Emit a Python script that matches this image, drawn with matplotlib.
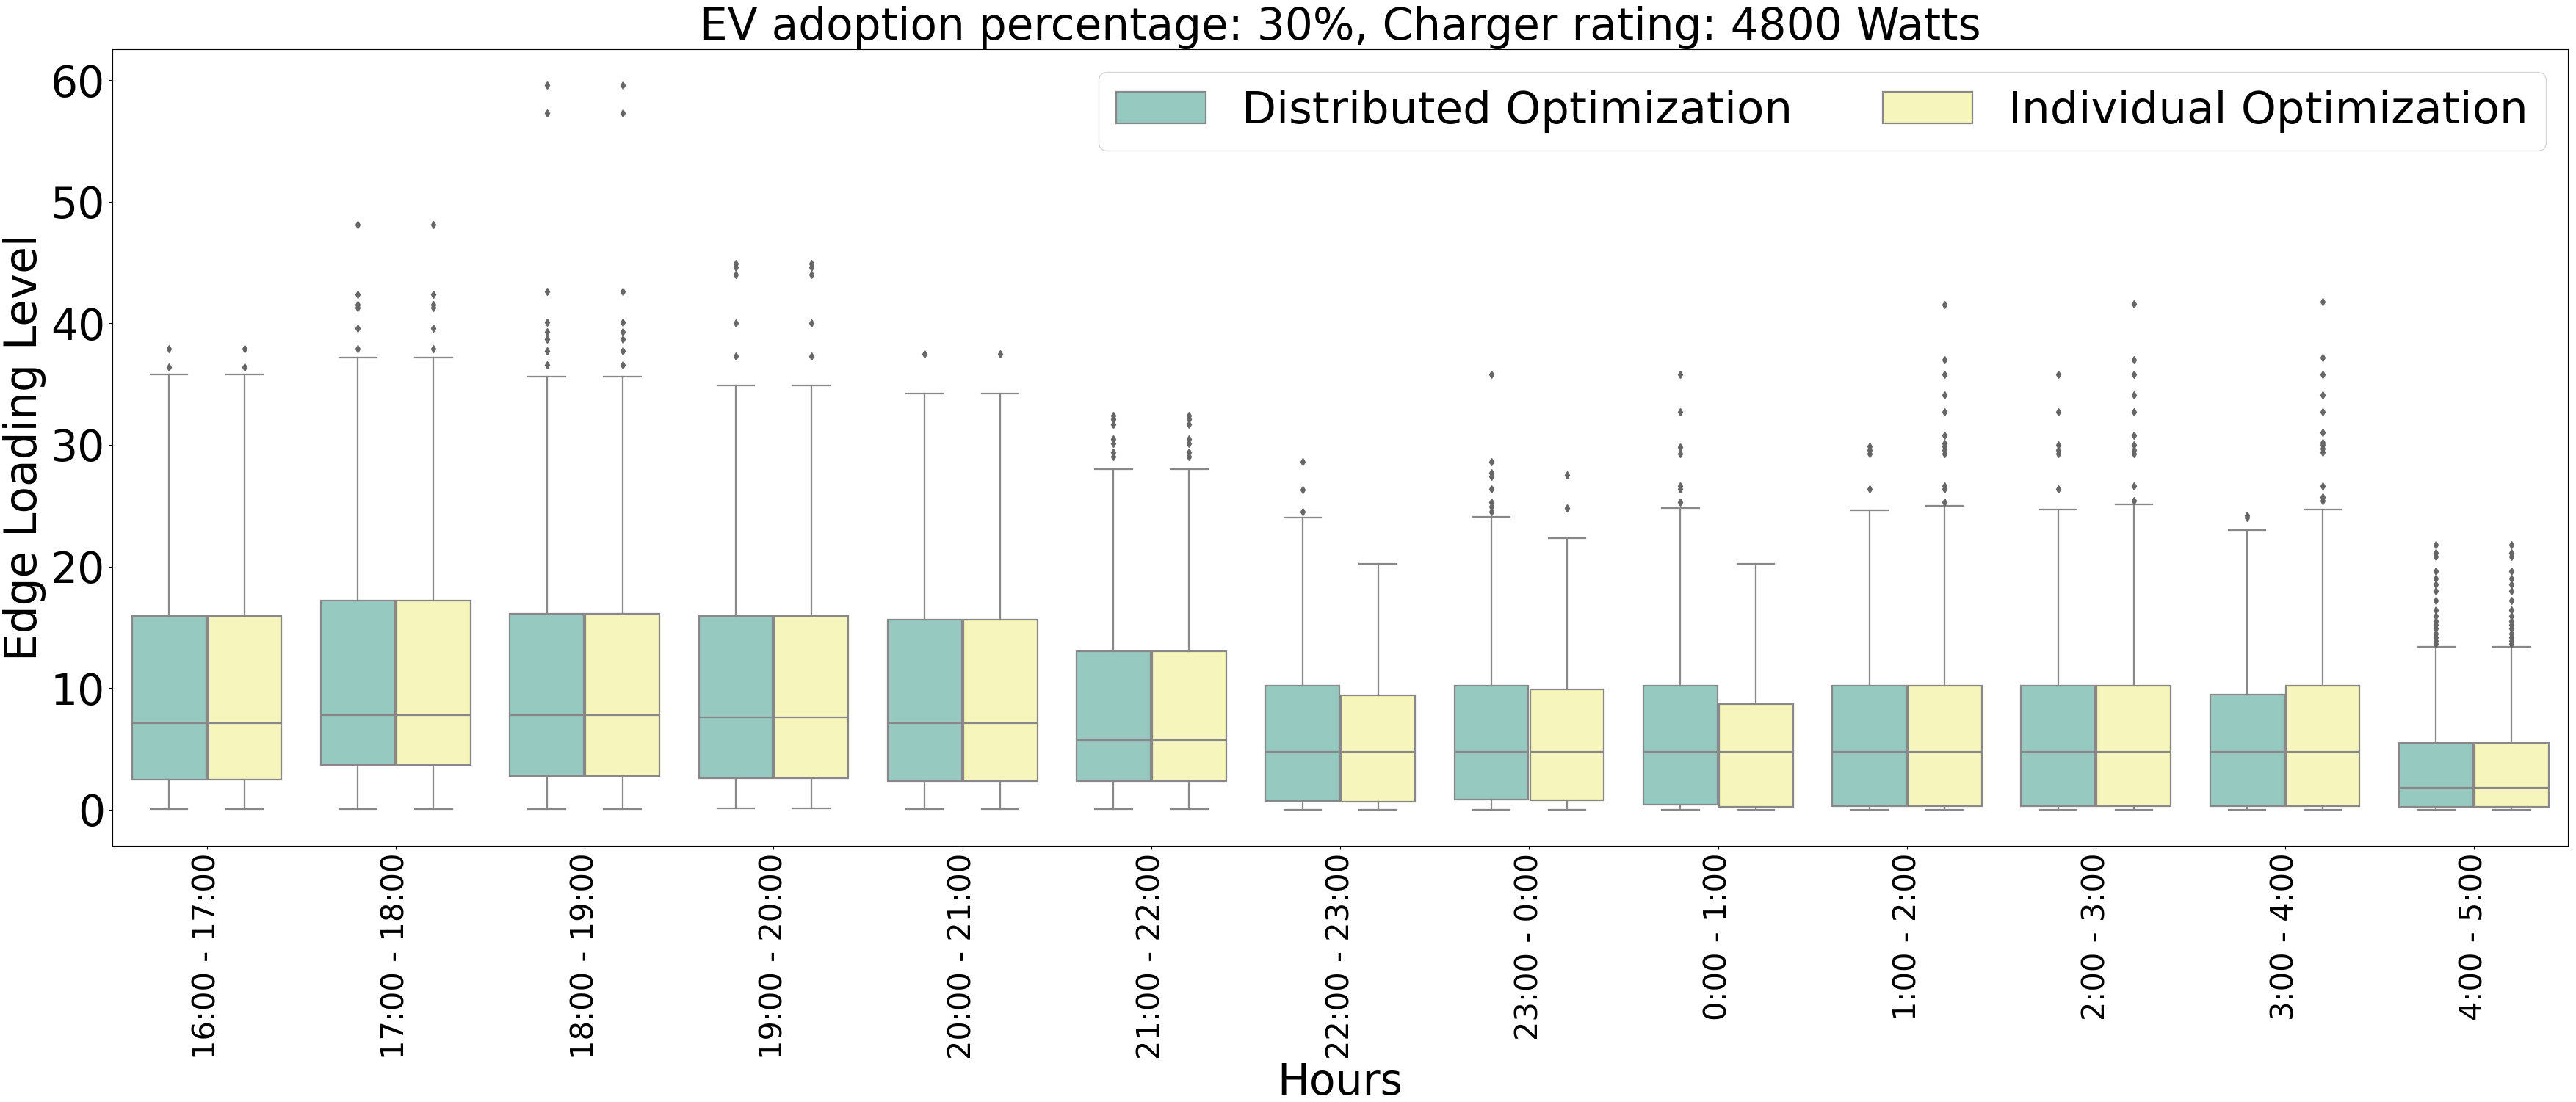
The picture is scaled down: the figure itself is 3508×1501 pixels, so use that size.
import colorsys
import matplotlib
matplotlib.use('Agg')

import numpy as np
import matplotlib.pyplot as plt
from matplotlib.patches import Patch

# === Data ===
hours = ["16:00 - 17:00", "17:00 - 18:00", "18:00 - 19:00", "19:00 - 20:00",
         "20:00 - 21:00", "21:00 - 22:00", "22:00 - 23:00", "23:00 - 0:00",
         "0:00 - 1:00", "1:00 - 2:00", "2:00 - 3:00", "3:00 - 4:00", "4:00 - 5:00"]
methods = ["Distributed Optimization", "Individual Optimization"]

# Distributed optimization box stats
dist_whislo = [0.05, 0.05, 0.05, 0.1, 0.05, 0.05, 0.0, 0.0, 0.0, 0.0, 0.0, 0.0, 0.0]
dist_q1 = [2.45, 3.65, 2.75, 2.55, 2.35, 2.35, 0.72, 0.85, 0.4, 0.3, 0.3, 0.3, 0.22]
dist_med = [7.1, 7.75, 7.75, 7.6, 7.1, 5.7, 4.73, 4.73, 4.73, 4.73, 4.73, 4.73, 1.77]
dist_q3 = [15.9, 17.2, 16.1, 15.95, 15.6, 13.0, 10.2, 10.2, 10.2, 10.2, 10.2, 9.45, 5.5]
dist_whishi = [35.8, 37.2, 35.6, 34.9, 34.2, 28.0, 24.0, 24.1, 24.8, 24.6, 24.7, 23.0, 13.4]
dist_fliers = [
    [36.4, 37.9],
    [37.9, 39.6, 41.3, 41.5, 42.4, 48.1],
    [36.6, 37.7, 38.7, 39.3, 40.1, 42.6, 57.3, 59.6],
    [37.3, 40.0, 44.0, 44.6, 44.9],
    [37.5],
    [29.0, 29.4, 30.1, 30.5, 31.7, 32.1, 32.4],
    [24.5, 26.3, 28.6],
    [24.5, 24.9, 25.3, 26.4, 27.4, 27.7, 28.6, 35.8],
    [25.3, 26.4, 26.6, 29.3, 29.8, 32.7, 35.8],
    [26.4, 29.3, 29.6, 29.9],
    [26.4, 29.3, 29.6, 30.0, 32.7, 35.8],
    [24.0, 24.2],
    [13.6, 13.9, 14.2, 14.5, 14.9, 15.2, 15.5, 15.9, 16.4, 17.2, 18.0, 18.5,
     19.0, 19.6, 20.8, 21.1, 21.8],
]

# Individual optimization box stats
ind_whislo = [0.05, 0.05, 0.05, 0.1, 0.05, 0.05, 0.0, 0.0, 0.0, 0.0, 0.0, 0.0, 0.0]
ind_q1 = [2.45, 3.65, 2.75, 2.55, 2.35, 2.35, 0.65, 0.75, 0.2, 0.3, 0.3, 0.3, 0.22]
ind_med = [7.1, 7.75, 7.75, 7.6, 7.1, 5.7, 4.73, 4.73, 4.73, 4.73, 4.73, 4.73, 1.77]
ind_q3 = [15.9, 17.2, 16.1, 15.95, 15.6, 13.0, 9.4, 9.9, 8.65, 10.2, 10.2, 10.2, 5.5]
ind_whishi = [35.8, 37.2, 35.6, 34.9, 34.2, 28.0, 20.2, 22.3, 20.2, 25.0, 25.1, 24.7, 13.4]
ind_fliers = [
    [36.4, 37.9],
    [37.9, 39.6, 41.3, 41.5, 42.4, 48.1],
    [36.6, 37.7, 38.7, 39.3, 40.1, 42.6, 57.3, 59.6],
    [37.3, 40.0, 44.0, 44.6, 44.9],
    [37.5],
    [29.0, 29.4, 30.1, 30.5, 31.7, 32.1, 32.4],
    [],
    [24.8, 27.5],
    [],
    [25.3, 26.4, 26.6, 29.3, 29.6, 29.9, 30.1, 30.8, 32.7, 34.1, 35.8, 37.0, 41.5],
    [25.4, 26.6, 29.3, 29.6, 30.0, 30.8, 32.7, 34.1, 35.8, 37.0, 41.6],
    [25.4, 25.7, 26.6, 29.4, 29.7, 30.0, 30.2, 31.0, 32.7, 34.1, 35.8, 37.2, 41.8],
    [13.6, 13.9, 14.2, 14.5, 14.9, 15.2, 15.5, 15.9, 16.4, 17.2, 18.0, 18.5,
     19.0, 19.6, 20.8, 21.1, 21.8],
]


def desaturate(hex_color, prop=0.75):
    r, g, b = matplotlib.colors.to_rgb(hex_color)
    h, l, s = colorsys.rgb_to_hls(r, g, b)
    return colorsys.hls_to_rgb(h, l, s * prop)


def make_stats(whislo, q1, med, q3, whishi, fliers):
    return [dict(whislo=a, q1=b, med=c, q3=d, whishi=e, fliers=np.array(f))
            for a, b, c, d, e, f in zip(whislo, q1, med, q3, whishi, fliers)]


colors = [desaturate('#8dd3c7'), desaturate('#ffffb3')]
line_gray = '#888888'
flier_gray = '#666666'

all_stats = [
    make_stats(dist_whislo, dist_q1, dist_med, dist_q3, dist_whishi, dist_fliers),
    make_stats(ind_whislo, ind_q1, ind_med, ind_q3, ind_whishi, ind_fliers),
]

fig = plt.figure(figsize=(35.08, 15.01), dpi=100)
ax = fig.add_axes([0.0436, 0.2325, 0.9534, 0.7229])

x = np.arange(len(hours))
offsets = [-0.2, 0.2]
lw = 1.6
for k, stats in enumerate(all_stats):
    ax.bxp(stats, positions=x + offsets[k], widths=0.392, patch_artist=True,
           showfliers=True, manage_ticks=False,
           boxprops=dict(facecolor=colors[k], edgecolor=line_gray, linewidth=lw),
           medianprops=dict(color=line_gray, linewidth=lw),
           whiskerprops=dict(color=line_gray, linewidth=lw),
           capprops=dict(color=line_gray, linewidth=lw),
           flierprops=dict(marker='d', markerfacecolor=flier_gray,
                           markeredgecolor=flier_gray, markersize=5))

ax.set_xlim(-0.5, len(hours) - 0.5)
ax.set_ylim(-2.98, 62.55)
ax.set_xticks(x)
ax.set_xticklabels(hours, rotation=90, fontsize=30)
ax.set_yticks([0, 10, 20, 30, 40, 50, 60])
ax.tick_params(axis='y', labelsize=42)

ax.set_title('EV adoption percentage: 30%, Charger rating: 4800 Watts', fontsize=43)
ax.set_xlabel('Hours', fontsize=42, labelpad=2)
ax.set_ylabel('Edge Loading Level', fontsize=43)

handles = [Patch(facecolor=colors[i], edgecolor=line_gray, linewidth=lw, label=m)
           for i, m in enumerate(methods)]
ax.legend(handles=handles, loc='upper right', ncol=2, fontsize=44)

fig.savefig('out.png', dpi=100)
